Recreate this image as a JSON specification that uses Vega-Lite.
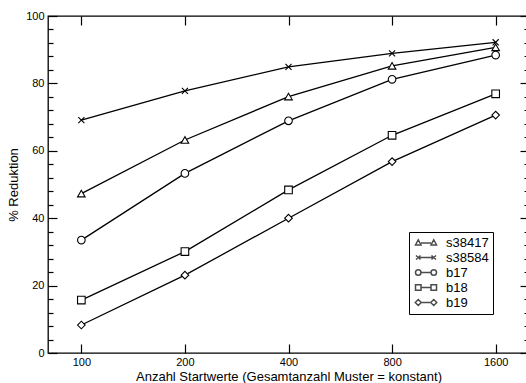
{
  "$schema": "https://vega.github.io/schema/vega-lite/v6.json",
  "autosize": "none",
  "width": 481,
  "height": 337,
  "padding": {"left": 48, "top": 16, "right": 0, "bottom": 30},
  "background": "white",
  "config": {
    "view": {"stroke": "black", "strokeWidth": 1.3},
    "font": "Liberation Sans",
    "axis": {"domain": false, "grid": false, "tickColor": "black", "labelColor": "black", "titleColor": "black", "labelFont": "Liberation Sans", "titleFont": "Liberation Sans", "titleFontWeight": "normal", "labelFontSize": 11, "titleFontSize": 13, "tickWidth": 1.2}
  },
  "data": {
    "values": [
      {"chip": "s38417", "n": 100, "red": 47.3},
      {"chip": "s38417", "n": 200, "red": 63.2},
      {"chip": "s38417", "n": 400, "red": 76.1},
      {"chip": "s38417", "n": 800, "red": 85.2},
      {"chip": "s38417", "n": 1600, "red": 90.7},
      {"chip": "s38584", "n": 100, "red": 69.1},
      {"chip": "s38584", "n": 200, "red": 77.8},
      {"chip": "s38584", "n": 400, "red": 84.9},
      {"chip": "s38584", "n": 800, "red": 88.9},
      {"chip": "s38584", "n": 1600, "red": 92.2},
      {"chip": "b17", "n": 100, "red": 33.5},
      {"chip": "b17", "n": 200, "red": 53.3},
      {"chip": "b17", "n": 400, "red": 68.9},
      {"chip": "b17", "n": 800, "red": 81.2},
      {"chip": "b17", "n": 1600, "red": 88.4},
      {"chip": "b18", "n": 100, "red": 15.7},
      {"chip": "b18", "n": 200, "red": 30.1},
      {"chip": "b18", "n": 400, "red": 48.4},
      {"chip": "b18", "n": 800, "red": 64.6},
      {"chip": "b18", "n": 1600, "red": 76.9},
      {"chip": "b19", "n": 100, "red": 8.3},
      {"chip": "b19", "n": 200, "red": 23.1},
      {"chip": "b19", "n": 400, "red": 40.0},
      {"chip": "b19", "n": 800, "red": 56.8},
      {"chip": "b19", "n": 1600, "red": 70.6}
    ]
  },
  "resolve": {"axis": {"x": "independent", "y": "independent"}, "scale": {"shape": "independent"}},
  "layer": [
    {
      "mark": {"type": "line", "color": "black", "strokeWidth": 1.3},
      "encoding": {
        "x": {"field": "n", "type": "quantitative", "scale": {"type": "log", "domain": [80, 2000], "nice": false},
              "axis": {"orient": "bottom", "values": [100, 200, 400, 800, 1600], "format": "d", "tickSize": -9, "labelPadding": 12, "title": "Anzahl Startwerte (Gesamtanzahl Muster = konstant)", "titlePadding": 3}},
        "y": {"field": "red", "type": "quantitative", "scale": {"domain": [0, 100], "nice": false},
              "axis": {"orient": "left", "values": [0, 20, 40, 60, 80, 100], "tickSize": -9, "labelPadding": 13, "title": "% Reduktion", "titlePadding": 5}},
        "detail": {"field": "chip"}
      }
    },
    {
      "mark": {"type": "point", "filled": false, "fill": "white", "fillOpacity": 1, "stroke": "black", "strokeWidth": 1.1, "opacity": 1, "size": 58},
      "encoding": {
        "x": {"field": "n", "type": "quantitative", "axis": {"orient": "top", "values": [100, 200, 400, 800, 1600], "tickSize": -9, "labels": false, "title": null}},
        "y": {"field": "red", "type": "quantitative", "axis": {"orient": "left", "values": [4, 8, 12, 16, 24, 28, 32, 36, 44, 48, 52, 56, 64, 68, 72, 76, 84, 88, 92, 96], "tickSize": -5, "labels": false, "title": null}},
        "shape": {
          "field": "chip", "type": "nominal",
          "scale": {"domain": ["s38417", "s38584", "b17", "b18", "b19"], "range": ["triangle-up", "M-0.8,-0.8L0.8,0.8M-0.8,0.8L0.8,-0.8", "circle", "square", "diamond"]},
          "legend": null
        }
      }
    },
    {
      "mark": {"type": "point", "opacity": 0},
      "encoding": {
        "x": {"field": "n", "type": "quantitative", "axis": null},
        "y": {"field": "red", "type": "quantitative", "axis": {"orient": "right", "values": [0, 20, 40, 60, 80, 100], "tickSize": -9, "labels": false, "title": null}}
      }
    },
    {
      "transform": [{"filter": "datum.n > 100000"}],
      "mark": {"type": "point", "filled": true, "fill": "white", "stroke": "black", "strokeWidth": 1},
      "encoding": {
        "x": {"field": "n", "type": "quantitative", "axis": null},
        "y": {"field": "red", "type": "quantitative", "axis": {"orient": "right", "values": [4, 8, 12, 16, 24, 28, 32, 36, 44, 48, 52, 56, 64, 68, 72, 76, 84, 88, 92, 96], "tickSize": -5, "labels": false, "title": null}},
        "shape": {
          "field": "chip", "type": "nominal",
          "scale": {"domain": ["s38417", "s38584", "b17", "b18", "b19"], "range": [
            "M-0.8,0.5L0.3,0.5L-0.25,-0.55ZM0.3,0.1L2.3,0.1M2.3,0.5L3.4,0.5L2.85,-0.55Z",
            "M-0.7,-0.4L0.2,0.4M-0.7,0.4L0.2,-0.4M-0.25,0L2.85,0M2.4,-0.4L3.3,0.4M2.4,0.4L3.3,-0.4",
            "M-0.8,0A0.55,0.55,0,1,1,0.3,0A0.55,0.55,0,1,1,-0.8,0ZM0.3,0L2.3,0M2.3,0A0.55,0.55,0,1,1,3.4,0A0.55,0.55,0,1,1,2.3,0Z",
            "M-0.8,-0.55L0.3,-0.55L0.3,0.55L-0.8,0.55ZM0.3,0L2.3,0M2.3,-0.55L3.4,-0.55L3.4,0.55L2.3,0.55Z",
            "M-0.85,0L-0.25,-0.6L0.35,0L-0.25,0.6ZM0.35,0L2.25,0M2.25,0L2.85,-0.6L3.45,0L2.85,0.6Z"
          ]},
          "legend": {
            "title": null, "orient": "none", "legendX": 361, "legendY": 216,
            "strokeColor": "black", "padding": 4,
            "labelFontSize": 13, "labelFont": "Liberation Sans", "labelColor": "black",
            "symbolSize": 100, "labelOffset": 20, "rowPadding": 1
          }
        }
      }
    }
  ]
}
